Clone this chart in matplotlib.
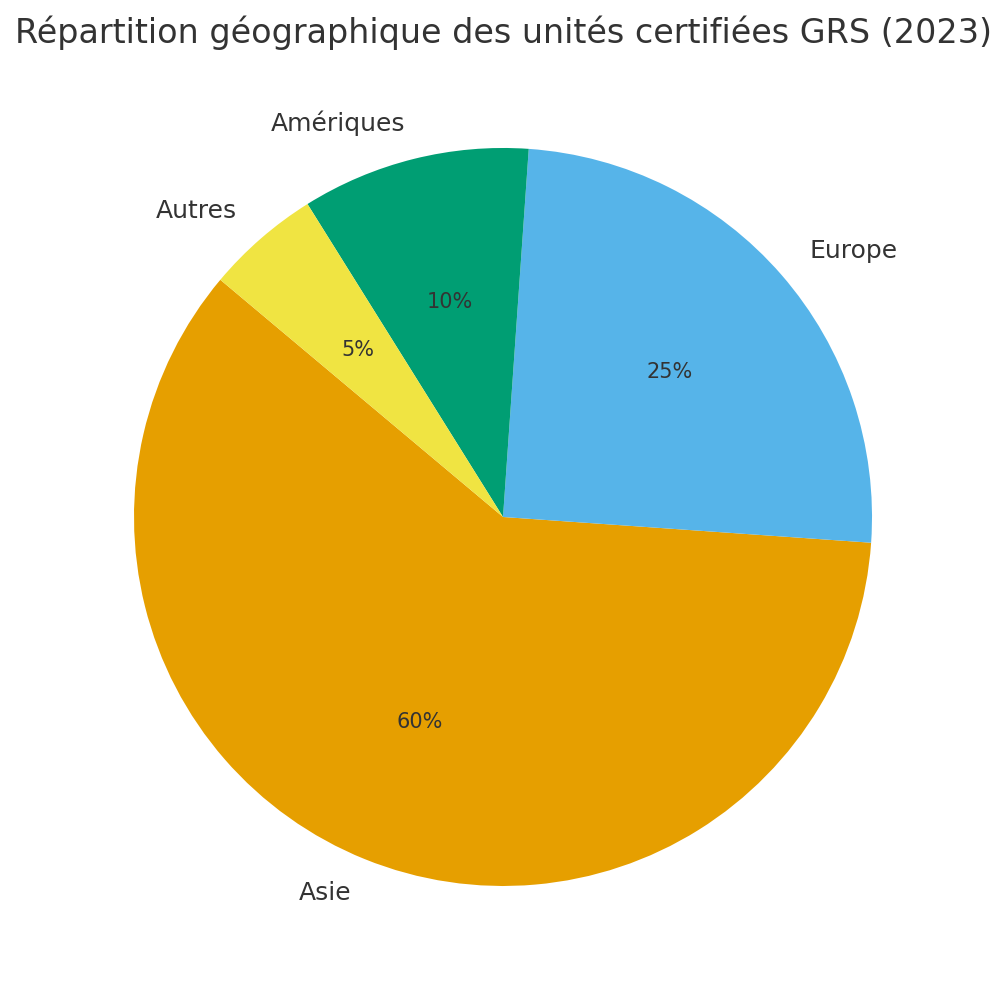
import matplotlib
matplotlib.use("Agg")
import matplotlib.pyplot as plt

labels = ["Asie", "Europe", "Amériques", "Autres"]
shares = [60, 25, 10, 5]
colors = ["#E69F00", "#56B4E9", "#009E73", "#F0E442"]

fig = plt.figure(figsize=(10.07, 9.94), dpi=100)
ax = fig.add_axes([0.04146, 0.01585, 0.9161, 0.9281])

wedges, texts, autotexts = ax.pie(shares, labels=labels, colors=colors,
                                  autopct="%1.0f%%", startangle=140,
                                  textprops={"color": "#333333", "fontsize": 18})
for t in autotexts:
    t.set_fontsize(15)
ax.set_aspect("equal")

fig.suptitle("Répartition géographique des unités certifiées GRS (2023)",
             fontsize=24, color="#333333", y=0.984)

fig.savefig("out.png", dpi=100)
